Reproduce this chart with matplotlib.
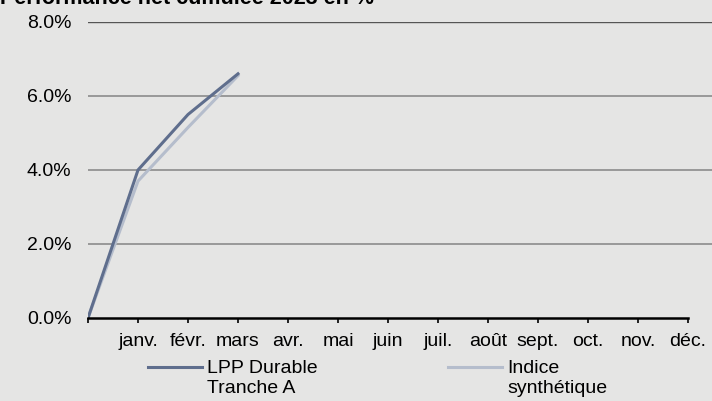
import matplotlib.pyplot as plt
from matplotlib.ticker import FuncFormatter
from matplotlib.legend_handler import HandlerLine2D

plt.rcParams['font.family'] = ['Liberation Sans', 'DejaVu Sans']

months = ['', 'janv.', 'févr.', 'mars', 'avr.', 'mai', 'juin',
          'juil.', 'août', 'sept.', 'oct.', 'nov.', 'déc.']
lpp = [0.0, 4.0, 5.5, 6.6]
indice = [0.0, 3.7, 5.15, 6.55]


class TopHandler(HandlerLine2D):
    # put the legend line next to the first line of a two-line label
    def create_artists(self, legend, orig_handle, xdescent, ydescent,
                       width, height, fontsize, trans):
        return super().create_artists(legend, orig_handle, xdescent,
                                      ydescent - 16, width, height,
                                      fontsize, trans)


bg = '#e5e5e4'
fig = plt.figure(figsize=(7.12, 4.01), dpi=100, facecolor=bg)
ax = fig.add_axes([88 / 712, 1 - 318 / 401, 625 / 712, 296 / 401])
ax.set_facecolor(bg)

x = list(range(len(months)))
l2, = ax.plot(x[:len(indice)], indice, color='#b5bdcc', lw=2.2, label='Indice\nsynthétique')
l1, = ax.plot(x[:len(lpp)], lpp, color='#5f6e8d', lw=2.2, label='LPP Durable\nTranche A')

ax.set_xlim(0, 12.5)
ax.set_ylim(0, 8)
ax.set_yticks([0, 2, 4, 6, 8])
ax.yaxis.set_major_formatter(FuncFormatter(lambda v, p: f'{v:.1f}%'))
ax.set_xticks(x)
ax.set_xticklabels(months)

for y in [2, 4, 6]:
    ax.axhline(y, color='#8c8c8c', lw=1.2, zorder=0)
ax.axhline(8, color='#555555', lw=1.0, zorder=0)

for s in ['top', 'right', 'left']:
    ax.spines[s].set_visible(False)
ax.spines['bottom'].set_linewidth(1.8)
ax.spines['bottom'].set_color('black')
ax.spines['bottom'].set_bounds(0, 12)
ax.tick_params(axis='y', length=0, labelsize=14, pad=12)
ax.tick_params(axis='x', length=3.5, width=1.2, labelsize=14, pad=7, direction='out')

leg_kw = dict(loc='upper left', frameon=False, fontsize=14, handlelength=2.8,
              handletextpad=0.25, labelspacing=0, borderpad=0, borderaxespad=0,
              handler_map={l1: TopHandler(), l2: TopHandler()})
leg1 = ax.legend(handles=[l1], bbox_to_anchor=(148 / 712, 1 - 360 / 401),
                 bbox_transform=fig.transFigure, **leg_kw)
ax.add_artist(leg1)
ax.legend(handles=[l2], bbox_to_anchor=(448 / 712, 1 - 360 / 401),
          bbox_transform=fig.transFigure, **leg_kw)

fig.text(0.0, 1 - 4 / 401, 'Performance net cumulée 2023 en %', fontsize=15.5,
         fontweight='bold', va='baseline', ha='left')

fig.savefig('out.png', dpi=100, facecolor=bg)
